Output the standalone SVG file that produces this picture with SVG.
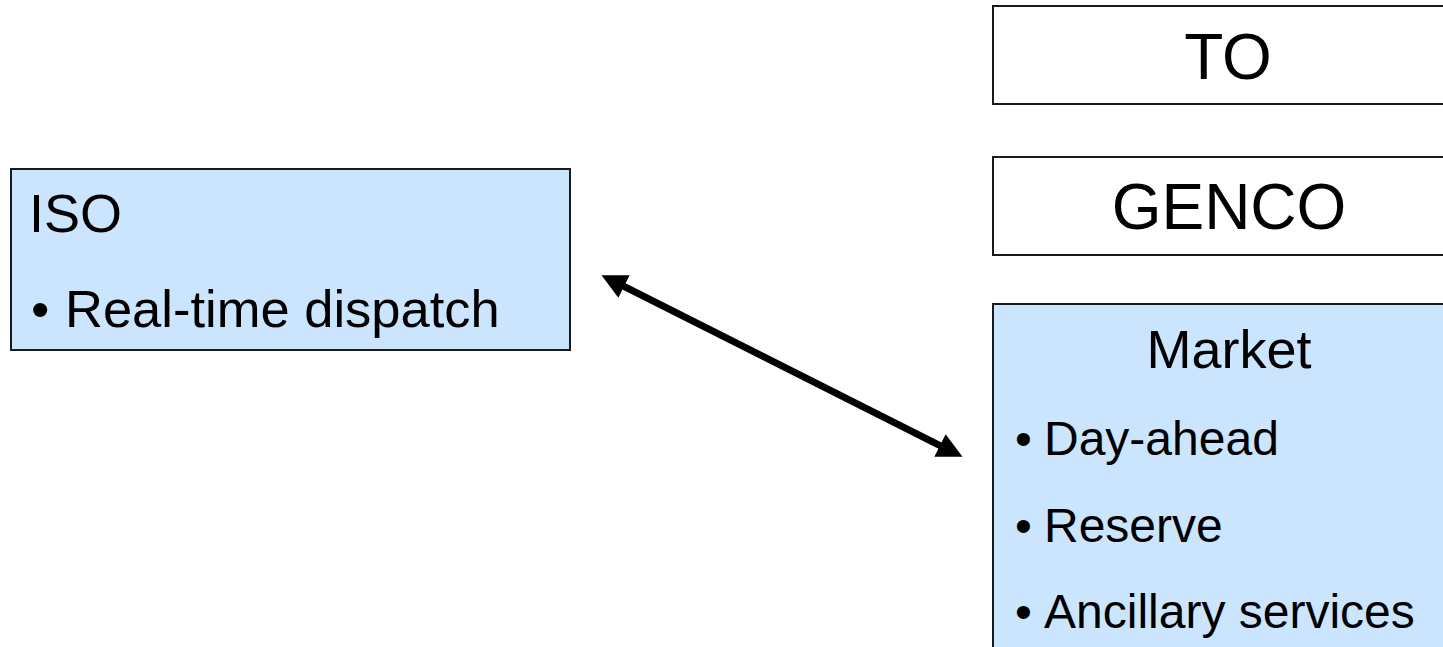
<svg xmlns="http://www.w3.org/2000/svg" width="1443" height="647" viewBox="0 0 1443 647">
  <style>
    .box { stroke: #1a1a1a; stroke-width: 2; }
    .blue { fill: #cce5ff; }
    .white { fill: #ffffff; }
    text { font-family: "Liberation Sans", Arial, sans-serif; fill: #000000; }
    .title { font-size: 54px; }
    .big { font-size: 64px; text-anchor: middle; }
    .item54 { font-size: 52.5px; }
    .item48 { font-size: 48px; }
    .link { fill: none; stroke: #000000; stroke-width: 7; }
  </style>
  <defs>
    <marker id="head" viewBox="0 0 10 10" refX="2" refY="5" markerWidth="3.7" markerHeight="3.6" orient="auto-start-reverse" markerUnits="strokeWidth">
      <path d="M0,0 L10,5 L0,10 z" fill="#000000"/>
    </marker>
  </defs>

  <rect width="1443" height="647" fill="#ffffff"/>

  <!-- ISO -->
  <g id="iso">
    <rect class="box blue" x="11" y="169" width="559" height="181"/>
    <text class="title" x="29" y="232">ISO</text>
    <text class="item54" x="31" y="327">•</text>
    <text class="item54" x="65" y="327">Real-time dispatch</text>
  </g>

  <!-- TO -->
  <g id="to">
    <rect class="box white" x="993" y="6" width="470" height="98"/>
    <text class="big" x="1228" y="79">TO</text>
  </g>

  <!-- GENCO -->
  <g id="genco">
    <rect class="box white" x="993" y="157" width="470" height="98"/>
    <text class="big" x="1229" y="229">GENCO</text>
  </g>

  <!-- Market -->
  <g id="market">
    <rect class="box blue" x="993" y="304" width="470" height="360"/>
    <text class="title" x="1229" y="368" text-anchor="middle">Market</text>
    <text class="item48" x="1015" y="455">•</text>
    <text class="item48" x="1044" y="455">Day-ahead</text>
    <text class="item48" x="1015" y="542">•</text>
    <text class="item48" x="1044" y="542">Reserve</text>
    <text class="item48" x="1015" y="628">•</text>
    <text class="item48" x="1044" y="628">Ancillary services</text>
  </g>

  <!-- connectors -->
  <g id="connectors">
    <path class="link" d="M619.5,284.2 L944.5,447.8" marker-start="url(#head)" marker-end="url(#head)"/>
  </g>
</svg>
